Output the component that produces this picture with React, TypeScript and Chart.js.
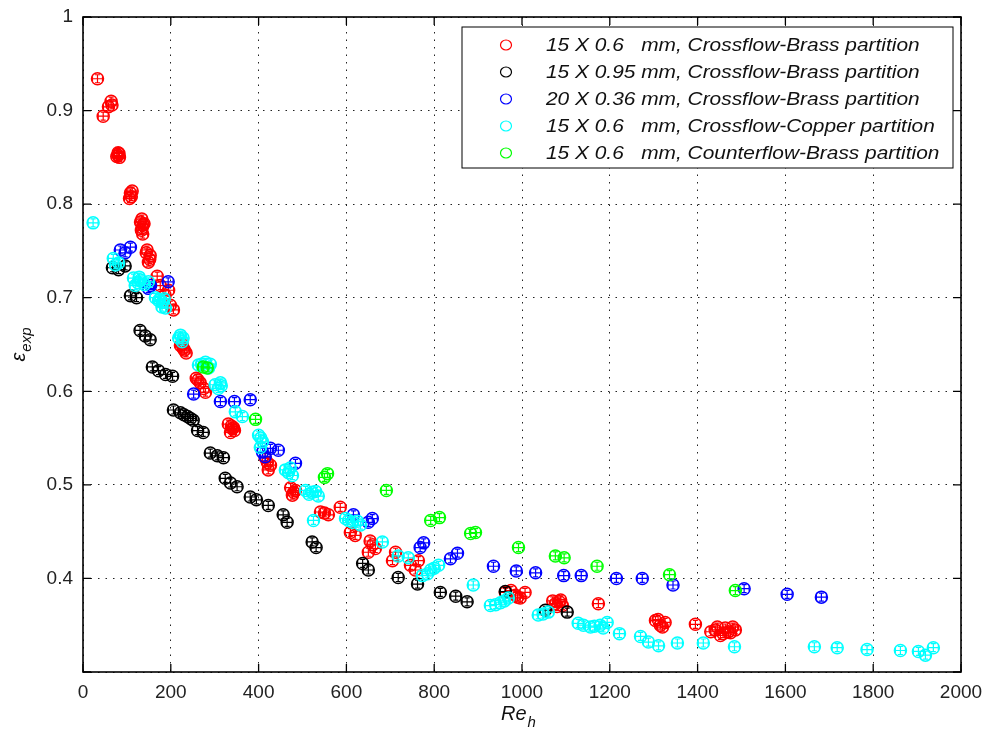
import React, { useEffect, useRef } from "react";
import { Chart, registerables } from "chart.js";
Chart.register(...registerables);

const seriesLabels = [
  "15 X 0.6   mm, Crossflow-Brass partition",
  "15 X 0.95 mm, Crossflow-Brass partition",
  "20 X 0.36 mm, Crossflow-Brass partition",
  "15 X 0.6   mm, Crossflow-Copper partition",
  "15 X 0.6   mm, Counterflow-Brass partition",
];
const seriesColors = ["#ff0000", "#000000", "#0000ff", "#00ffff", "#00ff00"];

const xTickValues = [0, 200, 400, 600, 800, 1000, 1200, 1400, 1600, 1800, 2000];
const yTickValues = [0.3, 0.4, 0.5, 0.6, 0.7, 0.8, 0.9, 1];
const hiddenYTick = 0.3;

const redX = [33, 46, 58, 64, 66, 80, 82, 77, 83, 80, 108, 110, 112, 106, 131, 133, 137, 135, 136, 139, 134, 146, 153, 149, 144, 152, 169, 176, 187, 199, 206, 195, 222, 231, 228, 226, 235, 258, 267, 262, 279, 275, 331, 343, 336, 340, 338, 345, 415, 427, 422, 420, 473, 484, 477, 480, 541, 559, 550, 586, 609, 620, 654, 666, 650, 660, 712, 705, 746, 764, 757, 962, 985, 1007, 996, 975, 990, 1076, 1092, 1085, 1080, 1070, 1088, 1174, 1304, 1326, 1315, 1310, 1320, 1395, 1440, 1463, 1486, 1452, 1475, 1430, 1445, 1470, 1480, 1458];
const redY = [0.934, 0.894, 0.904, 0.91, 0.906, 0.852, 0.854, 0.851, 0.85, 0.855, 0.812, 0.808, 0.814, 0.806, 0.781, 0.772, 0.778, 0.775, 0.768, 0.779, 0.784, 0.751, 0.745, 0.738, 0.748, 0.741, 0.723, 0.713, 0.703, 0.692, 0.687, 0.708, 0.649, 0.644, 0.646, 0.65, 0.641, 0.614, 0.609, 0.612, 0.599, 0.603, 0.565, 0.561, 0.556, 0.56, 0.563, 0.558, 0.529, 0.521, 0.516, 0.524, 0.497, 0.494, 0.489, 0.492, 0.471, 0.468, 0.47, 0.476, 0.449, 0.446, 0.44, 0.432, 0.428, 0.436, 0.428, 0.419, 0.414, 0.419, 0.409, 0.385, 0.382, 0.385, 0.379, 0.387, 0.38, 0.373, 0.371, 0.375, 0.37, 0.376, 0.377, 0.373, 0.355, 0.353, 0.35, 0.356, 0.348, 0.351, 0.345, 0.347, 0.345, 0.339, 0.342, 0.343, 0.348, 0.343, 0.348, 0.341];

const blackX = [67, 81, 96, 108, 122, 130, 142, 153, 158, 172, 188, 204, 206, 222, 238, 251, 230, 245, 261, 274, 290, 306, 320, 324, 336, 351, 381, 395, 422, 456, 465, 522, 531, 637, 650, 718, 762, 814, 849, 875, 962, 1053, 1103];
const blackY = [0.732, 0.73, 0.734, 0.702, 0.7, 0.665, 0.659, 0.655, 0.626, 0.622, 0.618, 0.616, 0.58, 0.577, 0.573, 0.569, 0.575, 0.571, 0.558, 0.556, 0.534, 0.531, 0.529, 0.507, 0.502, 0.498, 0.487, 0.484, 0.478, 0.468, 0.46, 0.439, 0.433, 0.416, 0.409, 0.401, 0.394, 0.385, 0.381, 0.375, 0.386, 0.366, 0.364];

const blueX = [85, 96, 108, 149, 154, 194, 252, 313, 345, 381, 409, 427, 445, 415, 484, 616, 659, 650, 768, 776, 837, 853, 935, 987, 1031, 1095, 1135, 1215, 1274, 1344, 1506, 1604, 1682];
const blueY = [0.751, 0.748, 0.754, 0.71, 0.713, 0.717, 0.597, 0.589, 0.589, 0.591, 0.535, 0.539, 0.537, 0.53, 0.523, 0.468, 0.464, 0.46, 0.433, 0.438, 0.421, 0.427, 0.413, 0.408, 0.406, 0.403, 0.403, 0.4, 0.4, 0.393, 0.389, 0.383, 0.38];

const cyanX = [23, 69, 81, 74, 115, 131, 149, 119, 125, 140, 128, 165, 181, 188, 175, 172, 180, 185, 222, 226, 218, 228, 263, 279, 286, 270, 290, 301, 313, 308, 315, 347, 363, 400, 409, 404, 405, 461, 477, 468, 472, 507, 522, 536, 515, 530, 525, 598, 614, 632, 605, 625, 682, 718, 741, 773, 792, 810, 785, 800, 889, 928, 951, 969, 940, 960, 1037, 1060, 1048, 1128, 1156, 1178, 1194, 1140, 1165, 1185, 1222, 1270, 1288, 1311, 1354, 1413, 1484, 1666, 1718, 1786, 1862, 1903, 1919, 1937];
const cyanY = [0.78, 0.742, 0.737, 0.735, 0.721, 0.719, 0.717, 0.713, 0.716, 0.714, 0.722, 0.7, 0.695, 0.689, 0.698, 0.697, 0.69, 0.699, 0.66, 0.653, 0.657, 0.657, 0.628, 0.631, 0.625, 0.629, 0.629, 0.607, 0.609, 0.603, 0.606, 0.578, 0.573, 0.553, 0.546, 0.54, 0.55, 0.516, 0.51, 0.513, 0.518, 0.494, 0.492, 0.488, 0.49, 0.493, 0.462, 0.464, 0.46, 0.457, 0.462, 0.461, 0.439, 0.424, 0.422, 0.403, 0.409, 0.414, 0.405, 0.411, 0.393, 0.371, 0.374, 0.379, 0.372, 0.376, 0.361, 0.364, 0.362, 0.352, 0.348, 0.35, 0.353, 0.35, 0.349, 0.347, 0.341, 0.338, 0.332, 0.328, 0.331, 0.331, 0.327, 0.327, 0.326, 0.324, 0.323, 0.322, 0.318, 0.326];

const greenX = [274, 283, 393, 550, 557, 691, 792, 812, 883, 894, 992, 1076, 1096, 1171, 1336, 1486];
const greenY = [0.626, 0.625, 0.57, 0.508, 0.512, 0.494, 0.462, 0.465, 0.448, 0.449, 0.433, 0.424, 0.422, 0.413, 0.404, 0.387];

const FONT = "'Liberation Sans', Arial, sans-serif";

function pts(xs: number[], ys: number[]) {
  return xs.map((x, i) => ({ x, y: ys[i] }));
}

export default function App() {
  const ref = useRef<HTMLCanvasElement>(null);
  useEffect(() => {
    document.body.style.margin = "0";
    const canvas = ref.current!;
    const seriesData = [pts(redX, redY), pts(blackX, blackY), pts(blueX, blueY), pts(cyanX, cyanY), pts(greenX, greenY)];

    const errorBars = {
      id: "errorBars",
      afterDatasetDraw(chart: any, args: any) {
        const c = chart.ctx;
        const ds = chart.data.datasets[args.index];
        c.save();
        c.strokeStyle = ds.borderColor;
        c.lineWidth = 1.2;
        args.meta.data.forEach((el: any) => {
          const x = el.x, y = el.y;
          c.beginPath();
          c.moveTo(x - 5, y); c.lineTo(x + 5, y);
          c.moveTo(x - 5, y - 2.5); c.lineTo(x - 5, y + 2.5);
          c.moveTo(x + 5, y - 2.5); c.lineTo(x + 5, y + 2.5);
          c.moveTo(x, y - 4); c.lineTo(x, y + 4);
          c.moveTo(x - 2.5, y - 4); c.lineTo(x + 2.5, y - 4);
          c.moveTo(x - 2.5, y + 4); c.lineTo(x + 2.5, y + 4);
          c.stroke();
        });
        c.restore();
      },
    };

    const decor = {
      id: "decor",
      afterDraw(chart: any) {
        const c = chart.ctx;
        const a = chart.chartArea;
        const xs = chart.scales.x, ys = chart.scales.y;
        c.save();
        c.strokeStyle = "#000";
        c.lineWidth = 1.6;
        c.strokeRect(a.left, a.top, a.right - a.left, a.bottom - a.top);
        c.lineWidth = 1.3;
        c.beginPath();
        xTickValues.forEach((v) => {
          const px = xs.getPixelForValue(v);
          c.moveTo(px, a.bottom); c.lineTo(px, a.bottom - 8);
          c.moveTo(px, a.top); c.lineTo(px, a.top + 8);
        });
        yTickValues.forEach((v) => {
          const py = ys.getPixelForValue(v);
          c.moveTo(a.left, py); c.lineTo(a.left + 8, py);
          c.moveTo(a.right, py); c.lineTo(a.right - 8, py);
        });
        c.stroke();

        // legend
        const bw = 491, bh = 141;
        const bx = a.right - 8 - bw, by = a.top + 10;
        c.fillStyle = "#fff";
        c.fillRect(bx, by, bw, bh);
        c.strokeStyle = "#000";
        c.lineWidth = 1;
        c.strokeRect(bx, by, bw, bh);
        c.textBaseline = "middle";
        c.textAlign = "left";
        chart.data.datasets.forEach((ds: any, i: number) => {
          const cy = by + 18 + i * 27;
          c.strokeStyle = ds.borderColor;
          c.lineWidth = 1.2;
          c.beginPath();
          c.ellipse(bx + 44, cy, 5.5, 5, 0, 0, Math.PI * 2);
          c.stroke();
          c.save();
          c.translate(bx + 84, cy + 1);
          c.scale(1.16, 1);
          c.font = "italic 18px " + FONT;
          c.fillStyle = "#111";
          c.fillText(ds.label, 0, 0);
          c.restore();
        });

        // x title Re_h
        c.fillStyle = "#111";
        c.textBaseline = "alphabetic";
        c.font = "italic 20px " + FONT;
        const mainW = c.measureText("Re").width;
        c.font = "italic 15px " + FONT;
        const subW = c.measureText("h").width;
        const cx = (a.left + a.right) / 2 - 4;
        const x0 = cx - (mainW + subW) / 2;
        c.font = "italic 20px " + FONT;
        c.fillText("Re", x0, 720);
        c.font = "italic 15px " + FONT;
        c.fillText("h", x0 + mainW + 1, 727);

        // y title eps_exp
        c.translate(25, 345);
        c.rotate(-Math.PI / 2);
        c.font = "italic 20px " + FONT;
        const eW = c.measureText("\u03b5").width;
        c.font = "italic 15px " + FONT;
        const sW = c.measureText("exp").width;
        const y0 = -(eW + sW) / 2;
        c.font = "italic 20px " + FONT;
        c.fillText("\u03b5", y0, 0);
        c.font = "italic 15px " + FONT;
        c.fillText("exp", y0 + eW + 1, 6);
        c.restore();
      },
    };

    const chart = new Chart(canvas, {
      type: "scatter",
      data: {
        datasets: seriesLabels.map((label, i) => ({
          label,
          data: seriesData[i],
          borderColor: seriesColors[i],
          backgroundColor: "rgba(0,0,0,0)",
          pointStyle: "circle",
          pointRadius: 6,
          pointBorderWidth: 1.5,
          showLine: false,
          order: 5 - i,
        })),
      },
      options: {
        animation: false,
        responsive: false,
        devicePixelRatio: 1,
        layout: { padding: { top: 17, right: 25, left: 0, bottom: 0 } },
        plugins: { legend: { display: false }, tooltip: { enabled: false } },
        scales: {
          x: {
            type: "linear",
            min: 0,
            max: 2000,
            afterBuildTicks: (s: any) => { s.ticks = xTickValues.map((v) => ({ value: v })); },
            afterFit: (s: any) => { s.height = 57; s.paddingRight = 0; s.paddingLeft = 0; },
            ticks: {
              font: { size: 19, family: FONT },
              color: "#222",
              padding: 9,
              maxRotation: 0,
              callback: (v: any) => String(v),
            },
            grid: { color: "#222", lineWidth: 1, drawTicks: false, borderDash: [1.5, 6] } as any,
            border: { display: false, dash: [1.5, 6] } as any,
          },
          y: {
            type: "linear",
            min: 0.3,
            max: 1,
            afterBuildTicks: (s: any) => { s.ticks = yTickValues.map((v) => ({ value: v })); },
            afterFit: (s: any) => { s.width = 83; s.paddingTop = 0; s.paddingBottom = 0; },
            ticks: {
              font: { size: 19, family: FONT },
              color: "#222",
              padding: 10,
              callback: (v: any) => (Math.abs(v - hiddenYTick) < 1e-9 ? "" : String(Math.round(v * 10) / 10)),
            },
            grid: { color: "#222", lineWidth: 1, drawTicks: false, borderDash: [1.5, 6] } as any,
            border: { display: false, dash: [1.5, 6] } as any,
          },
        },
      },
      plugins: [errorBars, decor],
    } as any);
    return () => chart.destroy();
  }, []);
  return (
    <div style={{ width: 986, height: 729, position: "relative" }}>
      <canvas ref={ref} width={986} height={729} style={{ display: "block" }} />
    </div>
  );
}
